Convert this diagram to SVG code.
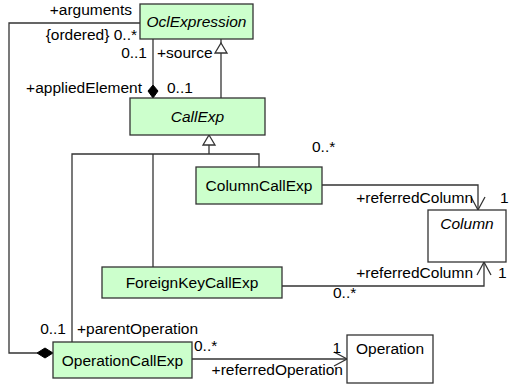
<svg xmlns="http://www.w3.org/2000/svg" width="509" height="385" viewBox="0 0 509 385">
<style>
.cls{fill:#ccffcc;stroke:#333;stroke-width:1.3}
.plain{fill:#fff;stroke:#333;stroke-width:1.3}
.ln{fill:none;stroke:#333;stroke-width:1.3}
.gen{fill:#fff;stroke:#333;stroke-width:1.3}
.dia{fill:#000;stroke:#000;stroke-width:1}
text{font-family:"Liberation Sans",Arial,sans-serif;font-size:15.5px;fill:#000}
.it{font-style:italic}
.mid{text-anchor:middle}
.end{text-anchor:end}
</style>
<g id="connectors">
  <polyline class="ln" points="140,23 9,23 9,353 37,353"/>
  <polygon class="dia" points="37,353 45,348 53,353 45,358"/>
  <line class="ln" x1="153" y1="39" x2="153" y2="85"/>
  <polygon class="dia" points="153,85 158,91 153,98 148,91"/>
  <line class="ln" x1="221" y1="39" x2="221" y2="98"/>
  <polygon class="gen" points="221,43 227,53 215,53"/>
  <polyline class="ln" points="72,342 72,154 259,154 259,167"/>
  <line class="ln" x1="153" y1="154" x2="153" y2="267"/>
  <line class="ln" x1="209" y1="145" x2="209" y2="154"/>
  <polygon class="gen" points="209,135 215,145 203,145"/>
  <polyline class="ln" points="322,185 478,185 478,210"/>
  <polyline class="ln" points="471,197 478,210 485,197"/>
  <polyline class="ln" points="282,286 484,286 484,262"/>
  <polyline class="ln" points="477,275 484,262 491,275"/>
  <line class="ln" x1="192" y1="359" x2="347" y2="359"/>
  <polyline class="ln" points="334,352 347,359 334,366"/>
  <text x="132" y="15" class="end">+arguments</text>
  <text x="137" y="40" class="end">{ordered} 0..*</text>
  <text x="147" y="58" class="end">0..1</text>
  <text x="157" y="58">+source</text>
  <text x="142" y="93" class="end">+appliedElement</text>
  <text x="167" y="93">0..1</text>
  <text x="312" y="152">0..*</text>
  <text x="473" y="203" class="end">+referredColumn</text>
  <text x="500" y="203">1</text>
  <text x="473" y="278" class="end">+referredColumn</text>
  <text x="498" y="278">1</text>
  <text x="333" y="298">0..*</text>
  <text x="66" y="334" class="end">0..1</text>
  <text x="77" y="334">+parentOperation</text>
  <text x="194" y="351">0..*</text>
  <text x="343" y="375" class="end">+referredOperation</text>
  <text x="341" y="353" class="end">1</text>
</g>
<g id="OclExpression">
  <rect class="cls" x="140" y="4" width="113" height="35"/>
  <text x="196.5" y="27" class="mid it">OclExpression</text>
</g>
<g id="CallExp">
  <rect class="cls" x="130" y="98" width="135" height="37"/>
  <text x="197.5" y="122" class="mid it">CallExp</text>
</g>
<g id="ColumnCallExp">
  <rect class="cls" x="196" y="167" width="126" height="37"/>
  <text x="259" y="191" class="mid">ColumnCallExp</text>
</g>
<g id="Column">
  <rect class="plain" x="428" y="210" width="78" height="52"/>
  <text x="467" y="229" class="mid it">Column</text>
</g>
<g id="ForeignKeyCallExp">
  <rect class="cls" x="102" y="267" width="180" height="31"/>
  <text x="192" y="288" class="mid">ForeignKeyCallExp</text>
</g>
<g id="OperationCallExp">
  <rect class="cls" x="53" y="342" width="139" height="36"/>
  <text x="122.5" y="366" class="mid">OperationCallExp</text>
</g>
<g id="Operation">
  <rect class="plain" x="347" y="335" width="86" height="48"/>
  <text x="390" y="354" class="mid">Operation</text>
</g>
</svg>
